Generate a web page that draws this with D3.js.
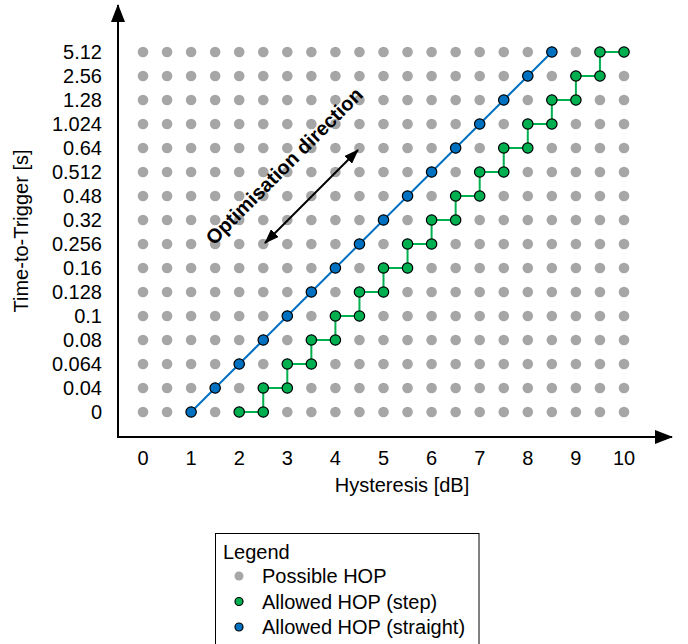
<!DOCTYPE html>
<html>
<head>
<meta charset="utf-8">
<script src="https://cdn.jsdelivr.net/npm/d3@7"></script>
<style>
  body { margin: 0; background: #fff; }
  svg { font-family: "Liberation Sans", Arial, sans-serif; }
</style>
</head>
<body>
<svg width="688" height="644"></svg>
<script>
// hysteresis values (dB), grid columns
const hysValues = [0, 0.5, 1, 1.5, 2, 2.5, 3, 3.5, 4, 4.5, 5, 5.5, 6, 6.5, 7, 7.5, 8, 8.5, 9, 9.5, 10];
const hysTicks = [0, 1, 2, 3, 4, 5, 6, 7, 8, 9, 10];
// time-to-trigger values (s), grid rows
const tttValues = ['0', '0.04', '0.064', '0.08', '0.1', '0.128', '0.16', '0.256', '0.32', '0.48', '0.512', '0.64', '1.024', '1.28', '2.56', '5.12'];

const straightHys = [1, 1.5, 2, 2.5, 3, 3.5, 4, 4.5, 5, 5.5, 6, 6.5, 7, 7.5, 8, 8.5];
const straightTtt = ['0', '0.04', '0.064', '0.08', '0.1', '0.128', '0.16', '0.256', '0.32', '0.48', '0.512', '0.64', '1.024', '1.28', '2.56', '5.12'];

const stepHys = [2, 2.5, 2.5, 3, 3, 3.5, 3.5, 4, 4, 4.5, 4.5, 5, 5, 5.5, 5.5, 6, 6, 6.5, 6.5, 7, 7, 7.5, 7.5, 8, 8, 8.5, 8.5, 9, 9, 9.5, 9.5, 10];
const stepTtt = ['0', '0', '0.04', '0.04', '0.064', '0.064', '0.08', '0.08', '0.1', '0.1', '0.128', '0.128', '0.16', '0.16', '0.256', '0.256',
  '0.32', '0.32', '0.48', '0.48', '0.512', '0.512', '0.64', '0.64', '1.024', '1.024', '1.28', '1.28', '2.56', '2.56', '5.12', '5.12'];

const legendItems = ['Possible HOP', 'Allowed HOP (step)', 'Allowed HOP (straight)'];

const grey = '#a6a6a6', green = '#00b050', blue = '#0070c0';
const fs = 20;

const svg = d3.select('svg');

const x = d3.scaleLinear().domain([0, 10]).range([143, 624]);
const y = d3.scalePoint().domain(tttValues).range([412, 52]);

// arrow markers
const defs = svg.append('defs');
defs.append('marker')
  .attr('id', 'ax-arrow')
  .attr('viewBox', '0 0 18 14')
  .attr('refX', 17).attr('refY', 7)
  .attr('markerWidth', 18).attr('markerHeight', 14)
  .attr('markerUnits', 'userSpaceOnUse')
  .attr('orient', 'auto')
  .append('path').attr('d', 'M0,0L18,7L0,14Z').attr('fill', '#000');
defs.append('marker')
  .attr('id', 'opt-arrow')
  .attr('viewBox', '0 0 15 11')
  .attr('refX', 14).attr('refY', 5.5)
  .attr('markerWidth', 15).attr('markerHeight', 11)
  .attr('markerUnits', 'userSpaceOnUse')
  .attr('orient', 'auto-start-reverse')
  .append('path').attr('d', 'M0,0L15,5.5L0,11Z').attr('fill', '#000');

// axes lines
svg.append('line')
  .attr('x1', 118).attr('y1', 437).attr('x2', 118).attr('y2', 5)
  .attr('stroke', '#000').attr('stroke-width', 2)
  .attr('marker-end', 'url(#ax-arrow)');
svg.append('line')
  .attr('x1', 117).attr('y1', 437).attr('x2', 672).attr('y2', 437)
  .attr('stroke', '#000').attr('stroke-width', 2)
  .attr('marker-end', 'url(#ax-arrow)');

// tick labels
svg.selectAll('.ylab')
  .data(tttValues)
  .enter().append('text')
    .attr('x', 102)
    .attr('y', d => y(d))
    .attr('dy', '0.36em')
    .attr('text-anchor', 'end')
    .attr('font-size', fs)
    .text(d => d);
svg.selectAll('.xlab')
  .data(hysTicks)
  .enter().append('text')
    .attr('x', d => x(d))
    .attr('y', 465)
    .attr('text-anchor', 'middle')
    .attr('font-size', fs)
    .text(d => d);

svg.append('text')
  .attr('x', 402).attr('y', 492)
  .attr('text-anchor', 'middle')
  .attr('font-size', fs)
  .text('Hysteresis [dB]');
svg.append('text')
  .attr('transform', 'translate(28,231) rotate(-90)')
  .attr('text-anchor', 'middle')
  .attr('font-size', fs)
  .text('Time-to-Trigger [s]');

// possible HOP grid
const grid = [];
tttValues.forEach(t => hysValues.forEach(h => grid.push([h, t])));
svg.selectAll('.grid')
  .data(grid)
  .enter().append('circle')
    .attr('cx', d => x(d[0]))
    .attr('cy', d => y(d[1]))
    .attr('r', 5.3)
    .attr('fill', grey);

// optimisation direction
svg.append('line')
  .attr('x1', 265).attr('y1', 243).attr('x2', 358).attr('y2', 150)
  .attr('stroke', '#000').attr('stroke-width', 2)
  .attr('marker-start', 'url(#opt-arrow)')
  .attr('marker-end', 'url(#opt-arrow)');
svg.append('text')
  .attr('transform', 'translate(289,171) rotate(-45)')
  .attr('text-anchor', 'middle')
  .attr('font-size', fs)
  .attr('font-weight', 'bold')
  .text('Optimisation direction');

// series
const line = d3.line().x(d => x(d[0])).y(d => y(d[1]));
const straight = straightHys.map((h, i) => [h, straightTtt[i]]);
const step = stepHys.map((h, i) => [h, stepTtt[i]]);

svg.append('path')
  .attr('d', line(straight))
  .attr('fill', 'none').attr('stroke', blue).attr('stroke-width', 2);
svg.append('path')
  .attr('d', line(step))
  .attr('fill', 'none').attr('stroke', green).attr('stroke-width', 2);

svg.selectAll('.straight')
  .data(straight)
  .enter().append('circle')
    .attr('cx', d => x(d[0]))
    .attr('cy', d => y(d[1]))
    .attr('r', 5.2)
    .attr('fill', blue).attr('stroke', '#000').attr('stroke-width', 1.2);
svg.selectAll('.step')
  .data(step)
  .enter().append('circle')
    .attr('cx', d => x(d[0]))
    .attr('cy', d => y(d[1]))
    .attr('r', 5.2)
    .attr('fill', green).attr('stroke', '#000').attr('stroke-width', 1.2);

// legend
const legend = svg.append('g');
legend.append('rect')
  .attr('x', 215.5).attr('y', 533.5).attr('width', 263.5).attr('height', 120)
  .attr('fill', '#fff').attr('stroke', '#000').attr('stroke-width', 1);
legend.append('text')
  .attr('x', 223).attr('y', 559)
  .attr('font-size', fs)
  .text('Legend');
const legColors = [grey, green, blue];
legendItems.forEach((d, i) => {
  const cy = 576 + i * 25.5;
  legend.append('circle')
    .attr('cx', 239).attr('cy', cy).attr('r', i === 0 ? 4.5 : 4)
    .attr('fill', legColors[i])
    .attr('stroke', i === 0 ? 'none' : '#000').attr('stroke-width', 1.2);
  legend.append('text')
    .attr('x', 262).attr('y', cy).attr('dy', '0.36em')
    .attr('font-size', fs)
    .text(d);
});
</script>
</body>
</html>
